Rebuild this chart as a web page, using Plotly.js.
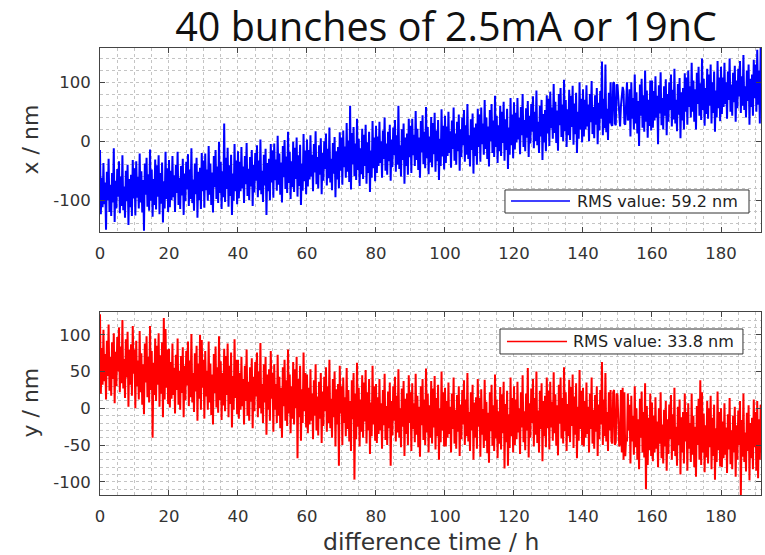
<!DOCTYPE html>
<html>
<head>
<meta charset="utf-8">
<script src="https://cdn.plot.ly/plotly-3.0.1.min.js"></script>
<style>html,body{margin:0;padding:0;background:#fff;}#chart{width:765px;height:555px;}</style>
</head>
<body>
<div id="chart"></div>
<script>
// sampling of the difference time (h)
const timeStart = 0;
const timeStep = 0.25;

// x position drift (nm) (one row = 10 h)
const xValues = [
-15,-124,-62,-112,-37,-107,-70,-150,-52,-100,-30,-120,-74,-127,-54,-104,-12,-137,-67,-114,-47,-94,-34,-122,-60,-110,-24,-117,-77,-130,-50,-102,-40,-142,-64,-112,-57,-127,-32,-97,
-46,-126,-34,-96,-61,-114,-21,-104,-51,-121,-66,-152,-38,-91,-28,-111,-56,-118,-14,-101,-48,-128,-64,-108,-31,-116,-41,-94,-24,-124,-54,-106,-36,-138,-68,-114,-18,-98,-46,-120,
-32,-112,-50,-100,-25,-95,-58,-120,-40,-88,-18,-108,-62,-115,-42,-92,-30,-125,-55,-102,-35,-82,-22,-110,-48,-98,-12,-105,-65,-118,-38,-90,-28,-130,-52,-100,-45,-115,-20,-85,
-33,-113,-21,-83,-48,-101,-8,-91,-38,-108,-53,-121,-25,-78,-15,-98,-43,-105,-1,-88,-35,-115,-51,-95,30,-103,-28,-81,-11,-111,-41,-93,-23,-125,-55,-101,-5,-85,-33,-107,
-17,-97,-35,-85,-10,-80,-43,-105,-25,-73,-3,-93,-47,-100,-27,-77,-15,-110,-40,-87,-20,-67,-7,-95,-33,-83,3,-90,-50,-103,-23,-75,-13,-125,-37,-85,-30,-100,-5,-70,
-16,-96,-4,-66,-31,-84,9,-74,-21,-91,-36,-104,-8,-61,2,-81,-26,-88,16,-71,-18,-98,-34,-78,-1,-86,-11,-64,6,-94,-24,-76,-6,-108,-38,-84,12,-68,-16,-90,
3,-77,-15,-65,10,-60,-23,-85,-5,-53,17,-73,-27,-80,-7,-57,5,-90,-20,-67,0,-47,13,-75,-13,-63,23,-70,-30,-83,-3,-55,7,-95,-17,-65,-10,-80,15,-50,
6,-74,18,-44,-9,-62,31,-52,1,-69,60,-82,14,-39,24,-59,-4,-66,38,-49,4,-76,-12,-56,21,-64,11,-42,28,-72,-2,-54,16,-86,-16,-62,34,-46,6,-68,
26,-54,8,-42,33,-37,0,-62,18,-30,40,-50,-4,-57,16,-34,28,-67,3,-44,23,-24,36,-52,10,-40,60,-47,-7,-60,20,-32,30,-72,6,-42,13,-57,38,-27,
26,-54,38,-24,11,-42,51,-32,21,-49,6,-62,34,-19,44,-39,16,-46,58,-29,24,-56,8,-36,41,-44,31,-22,48,-52,18,-34,36,-66,4,-42,54,-26,26,-48,
43,-37,25,-25,50,-20,17,-45,35,-13,57,-33,13,-40,33,-17,45,-50,20,-27,40,-7,53,-35,27,-23,63,-30,10,-43,37,-15,47,-55,23,-25,30,-40,55,-10,
45,-35,57,-5,30,-23,70,-13,40,-30,25,-43,53,0,63,-20,35,-27,77,-10,43,-37,27,-17,60,-25,50,-3,67,-33,37,-15,55,-47,23,-23,73,-7,45,-29,
66,-14,48,-2,73,3,40,-22,58,10,80,-10,36,-17,56,6,68,-27,43,-4,63,16,76,-12,50,0,86,-7,33,-20,60,8,70,-32,46,-2,53,-17,78,13,
72,-8,84,22,57,4,97,14,67,-3,52,-16,80,27,90,7,62,0,104,17,70,-10,54,10,87,2,77,24,94,-6,64,12,82,-20,50,4,100,20,72,-2,
88,8,70,20,95,25,62,0,80,32,102,12,58,5,78,28,90,-5,65,18,85,38,135,10,72,22,130,15,55,2,82,30,
100,28,26,98,100,30,27,96,95,62,30,25,60,88,92,85,30,28,90,100,35,40,
88,8,100,38,73,20,113,30,83,13,68,-8,96,43,106,23,78,16,120,33,86,6,70,26,103,18,
103,23,85,35,110,40,77,-5,95,47,117,27,73,20,93,43,105,10,80,33,100,53,113,25,87,37,123,30,70,17,97,45,107,5,83,35,90,20,115,50,
108,28,120,58,93,40,133,50,103,33,88,20,116,63,126,43,98,36,140,53,106,26,90,46,123,38,113,60,130,30,100,48,118,16,86,40,136,56,108,34,
126,46,108,58,133,63,100,38,118,70,140,50,96,43,116,66,128,33,103,56,123,76,136,48,110,60,146,53,93,40,120,68,130,28,106,58,113,43,138,73,
130,50,155,62,120,30,160,70
];

// y position drift (nm) (one row = 10 h)
const yValues = [
128,20,82,32,107,37,74,12,92,44,114,24,70,17,90,40,102,7,77,30,97,50,110,22,84,34,120,27,67,14,94,42,104,2,80,32,87,17,112,47,
80,0,92,30,65,12,105,22,75,5,60,-8,88,35,98,15,70,8,112,25,78,-40,62,18,95,10,85,32,102,2,72,20,90,-12,123,12,108,28,80,6,
81,1,63,13,88,18,55,-7,73,25,95,5,51,-2,71,21,83,-12,58,11,78,31,91,3,65,15,101,8,48,-5,75,23,85,-17,61,13,100,-2,93,28,
66,-14,78,16,51,-2,91,8,61,-9,46,-22,74,21,84,1,56,-6,98,11,64,-16,48,4,81,-4,71,18,88,-12,58,6,76,-26,44,-2,94,14,66,-8,
66,-14,48,-2,70,3,40,-22,58,10,80,-10,36,-17,56,9,68,-27,43,-4,63,16,76,-12,50,0,89,-7,33,-20,60,8,70,-36,46,-2,53,-17,78,13,
48,-32,60,-2,33,-20,73,-10,43,-27,28,-40,56,3,66,-17,38,-24,80,-7,46,-34,30,-14,63,-22,53,0,70,-68,40,-12,58,-44,26,-20,76,-4,48,-26,
46,-34,28,-22,53,-17,20,-42,38,-10,60,-30,16,-37,36,-14,48,-47,23,-24,43,-4,56,-32,30,-20,66,-27,13,-40,40,-12,50,-52,26,-22,33,-78,58,-7,
30,-50,42,-20,15,-38,55,-28,25,-45,10,-58,38,-15,48,-97,20,-42,62,-25,28,-52,12,-32,45,-40,35,-18,52,-48,22,-30,40,-62,8,-38,58,-22,30,-44,
33,-47,15,-35,40,-30,7,-55,25,-23,47,-43,3,-50,23,-27,35,-78,10,-37,30,-17,43,-45,17,-33,53,-40,0,-53,27,-25,37,-65,13,-35,20,-50,45,-20,
22,-58,34,-28,7,-46,47,-36,17,-53,2,-66,30,-23,40,-43,12,-50,54,-33,20,-60,4,-40,37,-48,27,-26,44,-56,14,-38,32,-70,0,-46,50,-30,22,-52,
28,-52,10,-40,35,-35,2,-60,20,-28,42,-48,-2,-55,18,-32,30,-65,5,-42,25,-22,38,-50,12,-38,48,-45,-5,-58,22,-30,32,-70,8,-40,15,-55,40,-25,
14,-66,26,-36,-1,-54,39,-44,9,-61,-6,-74,22,-31,32,-51,4,-58,46,-41,12,-68,-4,-48,29,-56,19,-34,36,-82,6,-46,24,-78,-8,-54,42,-38,14,-60,
30,-50,12,-42,36,-33,0,-62,22,-26,45,-46,-4,-57,20,-30,55,-67,7,-40,27,-20,40,-52,14,-36,50,-47,-3,-60,24,-28,34,-72,10,-38,17,-53,42,-27,
24,-56,36,-26,9,-44,49,-34,19,-51,4,-64,32,-21,42,-41,14,-48,56,-31,22,-58,6,-38,39,-46,29,-24,46,-54,16,-36,34,-68,2,-44,52,-28,24,-50,
28,-52,10,-40,35,-35,2,-60,20,-28,42,-48,-2,-55,18,-32,30,-65,5,-42,25,-22,63,-50,12,-38,48,-45,-5,-58,22,-30,
25,-45,-48,22,25,-50,-46,20,18,-10,-52,-48,25,-60,28,-70,22,-65,-40,-45,20,-30,
5,-75,17,-45,-10,-63,30,-53,0,-70,-15,-83,13,-40,23,-60,-5,-67,34,-110,3,-77,-13,-57,20,-65,
8,-72,-10,-60,15,-55,-18,-80,0,-48,22,-68,-22,-75,-2,-52,10,-85,-15,-62,5,-42,18,-70,-8,-58,28,-65,-25,-78,2,-50,12,-90,-12,-60,-5,-75,20,-45,
-5,-85,7,-55,-20,-73,20,-63,-10,-80,-25,-93,3,-50,13,-70,38,-77,22,-60,-7,-87,-23,-67,10,-75,0,-53,17,-83,-13,-65,5,-97,-27,-73,23,-57,-5,-79,
0,-80,-18,-68,7,-63,-26,-88,-8,-56,14,-76,-30,-83,-10,-60,2,-93,-23,-70,-3,-50,10,-118,-16,-66,20,-73,-33,-86,-6,-58,4,-98,-20,-68,-13,-83,12,-53,
-5,-85,10,-95,-15,-70,5,-60
];

const xLegendText = 'RMS value: 59.2 nm';
const yLegendText = 'RMS value: 33.8 nm';

const timeTicks = [0,20,40,60,80,100,120,140,160,180];
const timeTickLabels = ['0','20','40','60','80','100','120','140','160','180'];
const xTicks = [-100,0,100];
const xTickLabels = ['-100','0','100'];
const yTicks = [-100,-50,0,50,100];
const yTickLabels = ['-100','-50','0','50','100'];

const titleText = '40 bunches of 2.5mA or 19nC';
const xAxisTitle = 'x / nm';
const yAxisTitle = 'y / nm';
const timeAxisTitle = 'difference time / h';

const xColor = 'rgb(0,0,255)';
const yColor = 'rgb(255,0,0)';

const timeX = xValues.map((_, i) => timeStart + i * timeStep);
const timeY = yValues.map((_, i) => timeStart + i * timeStep);

const tickFont = {family: 'DejaVu Sans, sans-serif', size: 16.5, color: '#333'};
const gridCol = '#c4c4c4';

function timeAxis(anchor) {
  return {
    anchor: anchor, domain: [0.1307, 0.9948], range: [0, 191.6],
    tickmode: 'array', tickvals: timeTicks, ticktext: timeTickLabels,
    ticks: 'inside', ticklen: 5, tickcolor: '#444',
    showline: true, linecolor: '#444', linewidth: 1, mirror: 'ticks',
    showgrid: true, gridcolor: gridCol, griddash: 'dot', gridwidth: 1,
    minor: {dtick: 5, tick0: 0, showgrid: true, gridcolor: gridCol, griddash: 'dot', ticks: ''},
    zeroline: false, tickfont: tickFont, ticklabelstandoff: 6, fixedrange: true
  };
}
function valueAxis(anchor, domain, range, tv, tt, minorStep) {
  return {
    anchor: anchor, domain: domain, range: range,
    tickmode: 'array', tickvals: tv, ticktext: tt,
    ticks: 'inside', ticklen: 5, tickcolor: '#444',
    showline: true, linecolor: '#444', linewidth: 1, mirror: 'ticks',
    showgrid: true, gridcolor: gridCol, griddash: 'dot', gridwidth: 1,
    minor: {dtick: minorStep, tick0: 0, showgrid: true, gridcolor: gridCol, griddash: 'dot', ticks: ''},
    zeroline: false, tickfont: tickFont, ticklabelstandoff: 5, fixedrange: true
  };
}

const traces = [
  {x: timeX, y: xValues, xaxis: 'x', yaxis: 'y', type: 'scatter', mode: 'lines',
   name: xLegendText, line: {color: xColor, width: 2}},
  {x: timeY, y: yValues, xaxis: 'x2', yaxis: 'y2', type: 'scatter', mode: 'lines',
   name: yLegendText, line: {color: yColor, width: 2}}
];

// legend boxes (MATLAB style: long line sample + text), in paper units
function legendBox(x0, x1, y0, y1, lx0, lx1, ly, tx, sampleColor, text) {
  return {
    shapes: [
      {type: 'rect', xref: 'paper', yref: 'paper', x0: x0, x1: x1, y0: y0, y1: y1,
       fillcolor: '#ffffff', line: {color: '#333333', width: 1}, layer: 'above'},
      {type: 'line', xref: 'paper', yref: 'paper', x0: lx0, x1: lx1, y0: ly, y1: ly,
       line: {color: sampleColor, width: 1.5}, layer: 'above'}
    ],
    annotation: {text: text, xref: 'paper', yref: 'paper', x: tx, y: ly, xanchor: 'left', yanchor: 'middle',
      showarrow: false, font: {family: 'DejaVu Sans, sans-serif', size: 16, color: '#222'}}
  };
}
const legTop = legendBox(0.6601, 0.9791, 0.6162, 0.6577, 0.6680, 0.7451, 0.6378, 0.7510, xColor, xLegendText);
const legBot = legendBox(0.6536, 0.9712, 0.3622, 0.4072, 0.6627, 0.7412, 0.3847, 0.7460, yColor, yLegendText);

const layout = {
  width: 765, height: 555,
  margin: {l: 0, r: 0, t: 0, b: 0},
  paper_bgcolor: '#ffffff', plot_bgcolor: '#ffffff',
  showlegend: false,
  title: {text: titleText, x: 0.583, xanchor: 'center', xref: 'paper', y: 0.951, yanchor: 'middle', yref: 'container',
          font: {family: 'Open Sans, sans-serif', size: 39.5, color: '#111'}},
  xaxis: timeAxis('y'),
  yaxis: valueAxis('x', [0.582, 0.9135], [-154, 158], xTicks, xTickLabels, 20),
  xaxis2: timeAxis('y2'),
  yaxis2: valueAxis('x2', [0.108, 0.4378], [-118, 131], yTicks, yTickLabels, 10),
  shapes: legTop.shapes.concat(legBot.shapes),
  annotations: [
    legTop.annotation, legBot.annotation,
    {text: xAxisTitle, xref: 'paper', yref: 'paper', x: 0.040, y: 0.748, textangle: -90,
     showarrow: false, xanchor: 'center', yanchor: 'middle', font: {family: 'DejaVu Sans, sans-serif', size: 22, color: '#333'}},
    {text: yAxisTitle, xref: 'paper', yref: 'paper', x: 0.040, y: 0.274, textangle: -90,
     showarrow: false, xanchor: 'center', yanchor: 'middle', font: {family: 'DejaVu Sans, sans-serif', size: 22, color: '#333'}},
    {text: timeAxisTitle, xref: 'paper', yref: 'paper', x: 0.5634, y: 0.0234,
     showarrow: false, xanchor: 'center', yanchor: 'middle', font: {family: 'DejaVu Sans, sans-serif', size: 23.5, color: '#333'}}
  ]
};

Plotly.newPlot('chart', traces, layout, {staticPlot: true, displayModeBar: false});
</script>
</body>
</html>
